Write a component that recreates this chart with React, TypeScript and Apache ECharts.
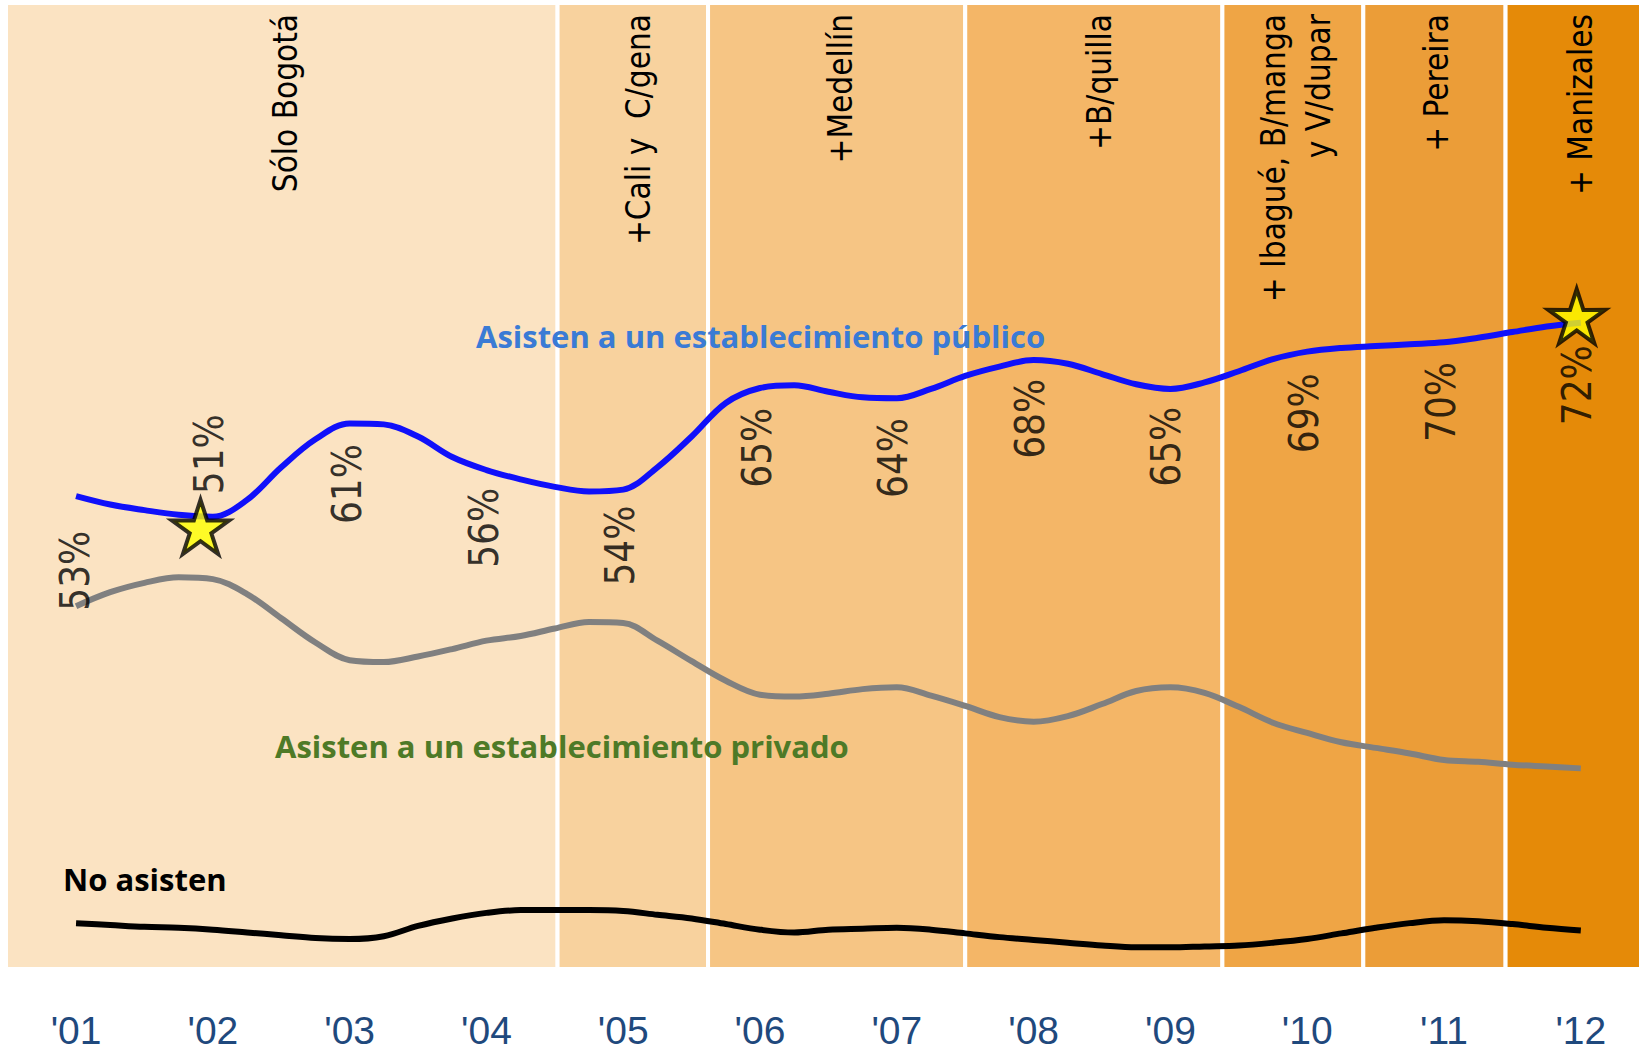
import React, { useEffect, useRef } from "react";
import * as echarts from "echarts";

// ---- data ----
const quarterStart = 2001; // first quarter point, one point per quarter
const publicShare = [53.3, 52.4, 51.8, 51.3, 51.1, 52.9, 56.4, 59.4, 61.1, 61.0, 59.7, 57.5, 56.1, 55.1, 54.3, 53.8, 54.0, 56.4, 59.7, 63.3, 64.9, 65.2, 64.5, 63.9, 63.8, 64.8, 66.2, 67.2, 67.9, 67.5, 66.4, 65.3, 64.8, 65.5, 66.7, 68.0, 68.8, 69.2, 69.4, 69.6, 69.8, 70.3, 70.9, 71.5, 71.9];
const privateShare = [41.5, 43.0, 44.0, 44.6, 44.4, 42.8, 40.2, 37.6, 35.7, 35.5, 36.1, 36.9, 37.8, 38.3, 39.1, 39.8, 39.7, 37.8, 35.6, 33.5, 32.0, 31.8, 32.1, 32.6, 32.8, 31.9, 30.8, 29.6, 29.1, 29.7, 31.0, 32.4, 32.8, 32.2, 30.7, 29.0, 27.9, 26.9, 26.3, 25.7, 25.0, 24.8, 24.5, 24.3, 24.1];
const noAttend = [7.5, 7.3, 7.1, 7.0, 6.8, 6.5, 6.2, 5.9, 5.8, 6.1, 7.2, 8.0, 8.6, 8.9, 8.9, 8.9, 8.8, 8.4, 8.0, 7.4, 6.8, 6.5, 6.8, 6.9, 7.0, 6.8, 6.4, 6.0, 5.7, 5.4, 5.1, 4.9, 4.9, 5.0, 5.1, 5.4, 5.8, 6.4, 7.0, 7.5, 7.8, 7.7, 7.4, 7.0, 6.7];

const yearTicks = [2001, 2002, 2003, 2004, 2005, 2006, 2007, 2008, 2009, 2010, 2011, 2012];
const pctLabels = ["53%", "51%", "61%", "56%", "54%", "65%", "64%", "68%", "65%", "69%", "70%", "72%"];
const pctLabelAnchor = [45.3, 57.8, 54.6, 49.9, 48.0, 58.5, 57.4, 61.6, 58.6, 62.2, 63.4, 65.2];
const pctLabelYear = [2000.99, 2001.97, 2002.98, 2003.98, 2004.98, 2005.98, 2006.97, 2007.97, 2008.97, 2009.98, 2010.98, 2011.97];

const starPoints = [[2001.91, 50.0], [2011.97, 72.6]];

const bandEdges = [2000.488, 2004.52, 2005.62, 2007.5, 2009.38, 2010.41, 2011.45, 2012.44];
const bandColors = ["#FBE3C2", "#F8D29E", "#F6C584", "#F4B667", "#EFA545", "#EB9D38", "#E58A08"];
const cityLabels = ["Sólo Bogotá", "+Cali y  C/gena", "+Medellín", "+B/quilla", "+ Ibagué, B/manga\ny V/dupar", "+ Pereira", "+ Manizales"];
const cityLabelX = [285, 638, 840, 1099, 1296, 1436, 1580];

const X_MIN = 2000.488;
const X_MAX = 2012.44;
const Y_MIN = 2.58;
const Y_MAX = 106.2;

const STAR = "path://M50 0 L61.17 34.63 L97.55 34.55 L68.07 55.87 L79.39 90.45 L50 69 L20.61 90.45 L31.93 55.87 L2.45 34.55 L38.83 34.63 Z";
const CITY_FONT = '"DejaVu Sans Condensed", "DejaVu Sans", sans-serif';
const NAME_FONT = 'bold 31px "Open Sans", Lato, sans-serif';

function toPairs(vals: number[]) {
  return vals.map((v, i) => [quarterStart + i * 0.25, v]);
}

export default function App() {
  const ref = useRef<HTMLDivElement>(null);
  useEffect(() => {
    if (!ref.current) return;
    const chart = echarts.init(ref.current, undefined, { renderer: "svg" });
    const bandData = bandColors.map((c, i) => [bandEdges[i], bandEdges[i + 1], i]);
    const option: any = {
      animation: false,
      backgroundColor: "#ffffff",
      grid: { left: 6, right: 0, top: 3, bottom: 82 },
      xAxis: {
        type: "value",
        min: X_MIN,
        max: X_MAX,
        axisLine: { show: false },
        axisTick: { show: false },
        splitLine: { show: false },
        axisLabel: {
          customValues: yearTicks,
          formatter: (v: number) => "'" + String(Math.round(v)).slice(2),
          color: "#1F497D",
          fontFamily: '"Liberation Sans", Arial, sans-serif',
          fontSize: 39,
          margin: 42,
        },
      },
      yAxis: {
        type: "value",
        min: Y_MIN,
        max: Y_MAX,
        show: false,
        splitLine: { show: false },
      },
      series: [
        {
          type: "custom",
          z: 0,
          silent: true,
          data: bandData,
          renderItem: (params: any, api: any) => {
            const p1 = api.coord([api.value(0), Y_MAX]);
            const p2 = api.coord([api.value(1), Y_MIN]);
            return {
              type: "rect",
              shape: { x: p1[0], y: p1[1], width: p2[0] - p1[0], height: p2[1] - p1[1] },
              style: { fill: bandColors[api.value(2)], stroke: "#ffffff", lineWidth: 4 },
            };
          },
        },
        {
          type: "line",
          name: "No asisten",
          data: toPairs(noAttend),
          smooth: 0.35,
          showSymbol: false,
          z: 3,
          lineStyle: { color: "#000000", width: 6 },
        },
        {
          type: "line",
          name: "Privado",
          data: toPairs(privateShare),
          smooth: 0.35,
          showSymbol: false,
          z: 3,
          lineStyle: { color: "#808080", width: 6 },
        },
        {
          type: "line",
          name: "Público",
          data: toPairs(publicShare),
          smooth: 0.35,
          showSymbol: false,
          z: 4,
          lineStyle: { color: "#1010FA", width: 6 },
        },
        {
          type: "scatter",
          silent: true,
          z: 5,
          symbol: STAR,
          symbolSize: 57,
          symbolKeepAspect: true,
          itemStyle: { color: "#FFFF00", borderColor: "#000000", borderWidth: 4 },
          data: starPoints,
        },
        {
          type: "scatter",
          silent: true,
          z: 6,
          symbolSize: 0,
          data: pctLabelYear.map((x, i) => [x, pctLabelAnchor[i], pctLabels[i]]),
          label: {
            show: true,
            position: "inside",
            rotate: 90,
            formatter: (p: any) => p.data[2],
            color: "#000000",
            fontFamily: CITY_FONT,
            fontSize: 40,
          },
        },
      ],
      graphic: [
        ...cityLabels.map((t, i) => ({
          type: "text",
          x: cityLabelX[i],
          y: 14,
          rotation: Math.PI / 2,
          silent: true,
          z: 10,
          style: {
            text: t,
            align: "right",
            verticalAlign: "middle",
            fill: "#000000",
            font: "33px " + CITY_FONT,
            lineHeight: 45,
          },
        })),
        {
          type: "text",
          x: 476,
          y: 336,
          z: 10,
          silent: true,
          style: { text: "Asisten a un establecimiento público", fill: "#3A7BD5", font: NAME_FONT, align: "left", verticalAlign: "middle" },
        },
        {
          type: "text",
          x: 275,
          y: 746,
          z: 10,
          silent: true,
          style: { text: "Asisten a un establecimiento privado", fill: "#4E7A27", font: NAME_FONT, align: "left", verticalAlign: "middle" },
        },
        {
          type: "text",
          x: 63,
          y: 879,
          z: 10,
          silent: true,
          style: { text: "No asisten", fill: "#000000", font: NAME_FONT, align: "left", verticalAlign: "middle" },
        },
      ],
    };
    chart.setOption(option);
    return () => chart.dispose();
  }, []);
  return (
    <div
      ref={ref}
      style={{ position: "absolute", left: 0, top: 0, width: 1641, height: 1051 }}
    />
  );
}
